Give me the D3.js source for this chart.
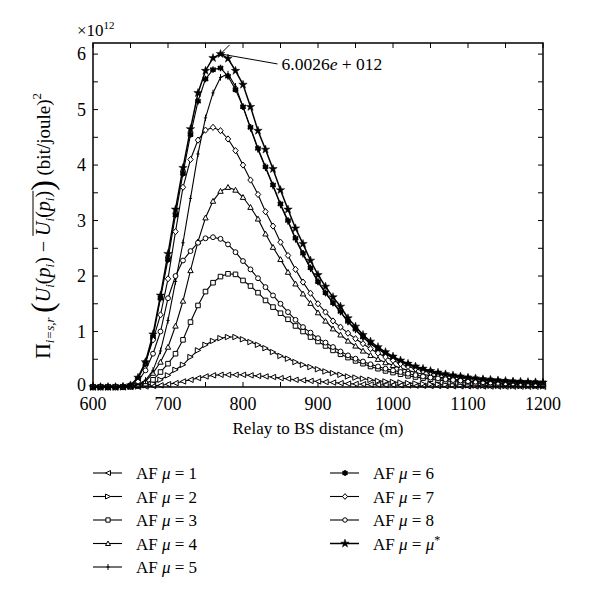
<!DOCTYPE html>
<html><head><meta charset="utf-8">
<script src="https://cdn.jsdelivr.net/npm/d3@7"></script>
<style>body{margin:0;background:#fff}svg{display:block}
svg text{font-family:"Liberation Serif","LiberationSerif","Tinos","DejaVu Serif","Noto Serif","FreeSerif","Times New Roman",Times,serif;}
</style>
</head><body>
<svg id="c" width="600" height="602"></svg>
<script>
// ---- data (values in units of 1e12) ----
const distances = d3.range(600, 1201, 10);
const xTicks = [600, 700, 800, 900, 1000, 1100, 1200];
const yTicks = [0, 1, 2, 3, 4, 5, 6];
const seriesNames = ["AF μ = 1","AF μ = 2","AF μ = 3","AF μ = 4","AF μ = 5","AF μ = 6","AF μ = 7","AF μ = 8","AF μ = μ*"];
const peakLabel = "6.0026e + 012";

const mu1 = [0,0,0,0,0,0.002,0.005,0.01,0.02,0.03,0.05,0.07,0.1,0.13,0.16,0.19,0.21,0.22,0.22,0.22,0.22,0.21,0.2,0.19,0.18,0.16,0.15,0.13,0.12,0.11,0.1,0.09,0.08,0.07,0.06,0.055,0.05,0.045,0.04,0.037,
  0.035,0.031,0.028,0.025,0.022,0.02,0.018,0.016,0.014,0.013,0.012,0.011,0.01,0.009,0.008,0.0075,0.007,0.0065,0.006,0.0055,0.005];
const mu2 = [0,0,0,0,0,0.004,0.01,0.03,0.06,0.13,0.21,0.31,0.4,0.54,0.66,0.76,0.83,0.88,0.9,0.9,0.86,0.81,0.76,0.7,0.63,0.56,0.51,0.45,0.4,0.36,0.32,0.28,0.25,0.22,0.19,0.17,0.15,0.13,0.11,0.1,
  0.09,0.08,0.07,0.063,0.056,0.05,0.045,0.04,0.036,0.032,0.029,0.026,0.024,0.022,0.02,0.018,0.016,0.015,0.014,0.013,0.012];
const mu3 = [0,0,0,0,0,0.006,0.02,0.06,0.13,0.27,0.42,0.6,0.85,1.17,1.47,1.72,1.88,1.99,2.04,2.03,1.92,1.82,1.7,1.56,1.44,1.33,1.22,1.1,1.0,0.9,0.82,0.74,0.66,0.59,0.53,0.47,0.42,0.37,0.33,0.29,
  0.26,0.23,0.2,0.18,0.16,0.14,0.125,0.11,0.1,0.09,0.08,0.072,0.065,0.059,0.054,0.049,0.045,0.041,0.038,0.035,0.032];
const mu4 = [0,0,0,0,0,0.01,0.03,0.1,0.25,0.45,0.72,1.1,1.55,2.1,2.62,3.05,3.35,3.53,3.6,3.55,3.42,3.24,3.03,2.76,2.52,2.3,2.07,1.86,1.68,1.51,1.34,1.19,1.05,0.94,0.83,0.74,0.65,0.57,0.5,0.44,
  0.39,0.34,0.3,0.26,0.23,0.2,0.18,0.16,0.14,0.125,0.11,0.1,0.09,0.082,0.075,0.068,0.062,0.057,0.052,0.048,0.044];
const mu5 = [0,0,0,0,0,0.01,0.05,0.12,0.3,0.65,1.2,1.9,2.6,3.4,4.2,4.85,5.3,5.58,5.64,5.42,5.05,4.66,4.28,3.95,3.62,3.28,2.98,2.66,2.39,2.13,1.89,1.69,1.51,1.35,1.17,1.03,0.89,0.78,0.68,0.6,
  0.52,0.45,0.4,0.35,0.31,0.27,0.24,0.215,0.195,0.175,0.16,0.145,0.13,0.12,0.11,0.1,0.093,0.087,0.082,0.077,0.072];
const mu6 = [0,0,0,0,0.005,0.03,0.15,0.42,0.9,1.6,2.3,3.1,3.85,4.55,5.15,5.55,5.72,5.75,5.6,5.36,5.05,4.68,4.3,3.97,3.64,3.3,3.0,2.68,2.41,2.15,1.9,1.7,1.52,1.36,1.18,1.04,0.9,0.79,0.69,0.61,
  0.53,0.46,0.41,0.36,0.32,0.28,0.25,0.22,0.2,0.18,0.165,0.15,0.135,0.125,0.115,0.105,0.097,0.09,0.085,0.08,0.075];
const mu7 = [0,0,0,0,0.004,0.03,0.15,0.45,0.85,1.3,1.95,2.8,3.6,4.1,4.45,4.63,4.68,4.62,4.47,4.26,4.0,3.73,3.47,3.16,2.9,2.61,2.37,2.12,1.89,1.69,1.5,1.35,1.19,1.08,0.97,0.87,0.78,0.69,0.61,0.54,
  0.48,0.42,0.37,0.33,0.29,0.26,0.23,0.205,0.185,0.165,0.15,0.135,0.12,0.11,0.1,0.092,0.085,0.078,0.072,0.067,0.062];
const mu8 = [0,0,0,0,0.003,0.02,0.1,0.3,0.6,1.0,1.6,2.0,2.28,2.45,2.6,2.68,2.7,2.67,2.57,2.43,2.27,2.12,1.96,1.8,1.65,1.5,1.35,1.21,1.08,0.98,0.88,0.8,0.72,0.64,0.57,0.51,0.46,0.41,0.37,0.33,
  0.3,0.27,0.24,0.215,0.19,0.17,0.155,0.14,0.125,0.115,0.105,0.095,0.087,0.08,0.073,0.067,0.062,0.057,0.053,0.049,0.045];
const muStar = [0,0,0,0,0.005,0.03,0.17,0.45,0.95,1.65,2.4,3.2,3.95,4.65,5.3,5.7,5.93,6.0026,5.92,5.7,5.45,5.05,4.62,4.28,3.93,3.55,3.2,2.86,2.58,2.28,2.02,1.81,1.62,1.45,1.24,1.09,0.94,0.82,0.72,0.63,
  0.55,0.48,0.42,0.37,0.33,0.29,0.26,0.23,0.21,0.19,0.17,0.155,0.14,0.13,0.12,0.11,0.1,0.095,0.09,0.085,0.08];

const allSeries = [mu1, mu2, mu3, mu4, mu5, mu6, mu7, mu8, muStar];
const markerKinds = ["triLeft","triRight","square","triUp","plus","asterisk","diamond","circle","star"];

// ---- layout ----
const svg = d3.select("#c");
const L = 93, R = 543, T = 43, B = 387;
const x = d3.scaleLinear().domain([600, 1200]).range([L, R]);
const y = d3.scaleLinear().domain([0, 6.2]).range([B, T]);

const g = svg.append("g");
const tickLen = 5;
d3.range(600, 1201, 50).forEach(v => {
  g.append("line").attr("x1", x(v)).attr("x2", x(v)).attr("y1", B).attr("y2", B - tickLen).attr("stroke", "#000");
  g.append("line").attr("x1", x(v)).attr("x2", x(v)).attr("y1", T).attr("y2", T + tickLen).attr("stroke", "#000");
});
d3.range(0, 6.01, 0.5).forEach(v => {
  g.append("line").attr("x1", L).attr("x2", L + tickLen).attr("y1", y(v)).attr("y2", y(v)).attr("stroke", "#000");
  g.append("line").attr("x1", R).attr("x2", R - tickLen).attr("y1", y(v)).attr("y2", y(v)).attr("stroke", "#000");
});
xTicks.forEach(v => {
  g.append("text").attr("x", x(v)).attr("y", 410).attr("text-anchor", "middle")
    .attr("font-size", 18).text(v);
});
yTicks.forEach(v => {
  g.append("text").attr("x", 86).attr("y", y(v) + (v === 0 ? 4 : 6)).attr("text-anchor", "end")
    .attr("font-size", 18).text(v);
});
const ex = g.append("text").attr("x", 77).attr("y", 36).attr("font-size", 17);
ex.append("tspan").text("×10");
ex.append("tspan").attr("font-size", 11).attr("dy", -7).text("12");

g.append("text").attr("x", 318).attr("y", 434).attr("text-anchor", "middle")
  .attr("font-size", 17).text("Relay to BS distance (m)");

(function(){
  const lg = svg.append("g").attr("transform", "translate(50,226) rotate(-90)");
  const pieces = [
    {t:"Π", s:22},
    {t:"i=s,r", s:13, it:true, dy:4},
    {t:" ", s:18},
    {t:"(", s:32, dy:3},
    {t:"U", s:20, it:true},
    {t:"i", s:13, it:true, dy:4},
    {t:"(", s:20},
    {t:"p", s:20, it:true},
    {t:"i", s:13, it:true, dy:4},
    {t:")", s:20},
    {t:" − ", s:20},
    {t:"U", s:20, it:true, ov:true},
    {t:"i", s:13, it:true, dy:4, ov:true},
    {t:"(", s:20, ov:true},
    {t:"p", s:20, it:true, ov:true},
    {t:"i", s:13, it:true, dy:4, ov:true},
    {t:")", s:20, ov:true},
    {t:")", s:32, dy:3},
    {t:" (bit/joule)", s:19},
    {t:"2", s:13, dy:-9}
  ];
  let cx = 0; const els = [];
  pieces.forEach(p => {
    const el = lg.append("text").attr("x", cx).attr("y", p.dy || 0)
      .attr("font-size", p.s)
      .attr("font-style", p.it ? "italic" : "normal").attr("xml:space","preserve").text(p.t);
    const w = el.node().getComputedTextLength();
    els.push({el, x0: cx, w, p});
    cx += w;
  });
  const shift = -cx / 2;
  els.forEach(e => e.el.attr("x", e.x0 + shift));
  const ovs = els.filter(e => e.p.ov);
  const ox0 = ovs[0].x0 + shift, ox1 = ovs[ovs.length-1].x0 + ovs[ovs.length-1].w + shift;
  lg.append("line").attr("x1", ox0).attr("x2", ox1).attr("y1", -17).attr("y2", -17).attr("stroke", "#000").attr("stroke-width", 1);
})();

function markerPath(kind, s) {
  const h = s;
  switch (kind) {
    case "triLeft": return `M${-h},0L${h},${-h}L${h},${h}Z`;
    case "triRight": return `M${h},0L${-h},${-h}L${-h},${h}Z`;
    case "triUp": return `M0,${-h}L${h},${h*0.8}L${-h},${h*0.8}Z`;
    case "square": return `M${-h*0.85},${-h*0.85}H${h*0.85}V${h*0.85}H${-h*0.85}Z`;
    case "diamond": return `M0,${-h*1.15}L${h},0L0,${h*1.15}L${-h},0Z`;
    case "circle": return d3.symbol(d3.symbolCircle, Math.PI * (h*0.9) * (h*0.9))();
    case "star": return d3.symbol(d3.symbolStar, 22)();
    case "plus": return `M0,${-h*1.2}V${h*1.2}M${-h*0.6},0H${h*0.6}`;
    case "asterisk": return `M0,${-h*1.2}V${h*1.2}M${-h},${-h*0.7}L${h},${h*0.7}M${-h},${h*0.7}L${h},${-h*0.7}M${-h},0H${h}`;
  }
}
function styleMarker(sel, kind) {
  if (kind === "star") sel.attr("fill", "#000").attr("stroke", "#000").attr("stroke-width", 0.5);
  else if (kind === "plus") sel.attr("fill", "none").attr("stroke", "#000").attr("stroke-width", 1);
  else if (kind === "asterisk") sel.attr("fill", "none").attr("stroke", "#000").attr("stroke-width", 1.6);
  else sel.attr("fill", "#fff").attr("stroke", "#000").attr("stroke-width", 1);
}

const line = d3.line().x((d, i) => x(distances[i])).y(d => y(d));
const plot = svg.append("g");
allSeries.forEach((vals, k) => {
  const kind = markerKinds[k];
  plot.append("path").attr("d", line(vals)).attr("fill", "none").attr("stroke", "#000")
    .attr("stroke-width", kind === "star" ? 1.5 : 1.1);
  plot.selectAll(null).data(vals).enter().append("path")
    .attr("transform", (d, i) => `translate(${x(distances[i])},${y(d)})`)
    .attr("d", markerPath(kind, 2.7))
    .call(styleMarker, kind);
});

svg.append("rect").attr("x", L).attr("y", T).attr("width", R - L).attr("height", B - T)
  .attr("fill", "none").attr("stroke", "#000").attr("stroke-width", 1.5);

const pi = muStar.indexOf(d3.max(muStar));
const px = x(distances[pi]), py = y(muStar[pi]);
svg.append("line").attr("x1", px).attr("y1", py).attr("x2", px + 9).attr("y2", py - 9).attr("stroke", "#000");
svg.append("line").attr("x1", px).attr("y1", py).attr("x2", px + 57).attr("y2", py + 10).attr("stroke", "#000");
const at = svg.append("text").attr("x", px + 61).attr("y", py + 16).attr("font-size", 17.5);
at.append("tspan").text("6.0026");
at.append("tspan").attr("font-style", "italic").text("e");
at.append("tspan").text(" + 012");

const lgd = svg.append("g");
seriesNames.forEach((name, k) => {
  const col = k < 5 ? 0 : 1, row = k < 5 ? k : k - 5;
  const lx = col === 0 ? 93 : 330, ly = 473 + row * 23.5;
  lgd.append("line").attr("x1", lx).attr("x2", lx + 29).attr("y1", ly).attr("y2", ly).attr("stroke", "#000")
    .attr("stroke-width", markerKinds[k] === "star" ? 1.5 : 1.1);
  lgd.append("path").attr("transform", `translate(${lx + 15},${ly})`).attr("d", markerPath(markerKinds[k], 2.5))
    .call(styleMarker, markerKinds[k]);
  const t = lgd.append("text").attr("x", lx + 43).attr("y", ly + 6).attr("font-size", 17);
  const parts = name.split("μ");
  t.append("tspan").text(parts[0]);
  t.append("tspan").attr("font-style", "italic").text("μ");
  if (parts.length === 2) t.append("tspan").text(parts[1]);
  else { t.append("tspan").text(parts[1]); t.append("tspan").attr("font-style", "italic").text("μ"); t.append("tspan").attr("font-size", 12).attr("dy", -6).text("*"); }
});
</script>
</body></html>
